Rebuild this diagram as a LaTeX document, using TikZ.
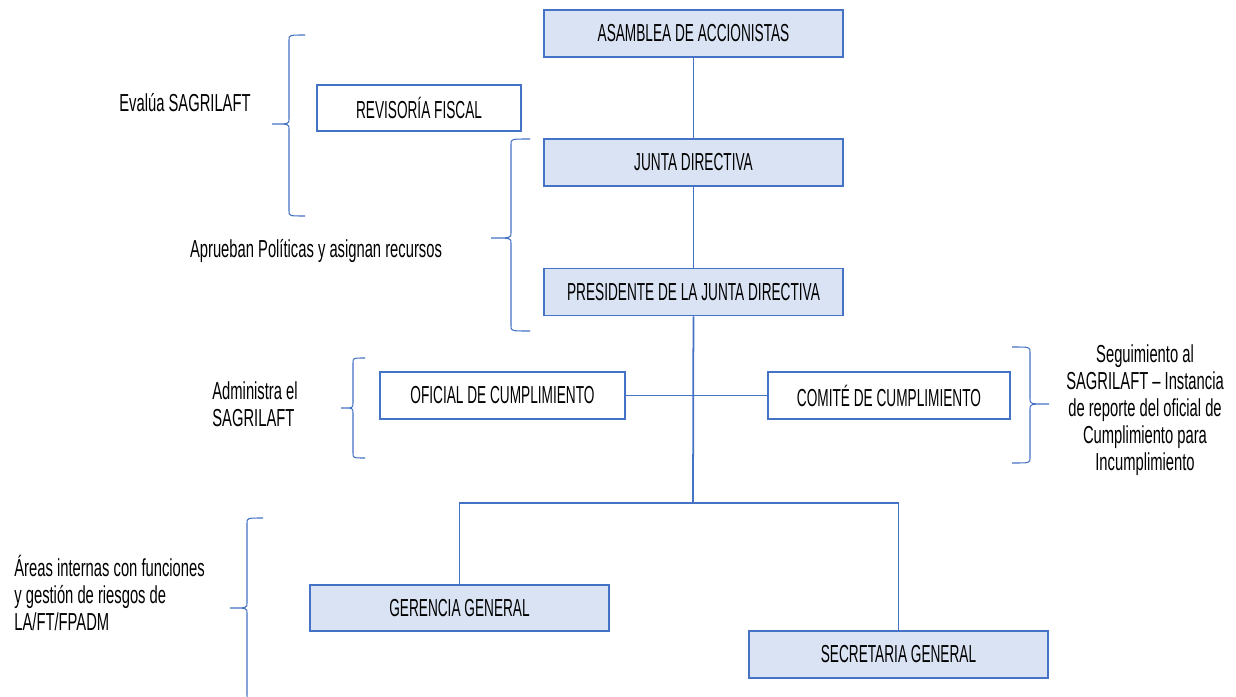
\documentclass[tikz,border=0pt]{standalone}
\usepackage{fontspec}
\setmainfont{Liberation Sans}[FakeStretch=0.555]
\newfontfamily\notafont{Liberation Sans}[FakeStretch=0.6]
\usepackage{tikz}
\definecolor{orgblue}{HTML}{4472C4}
\definecolor{orgfill}{HTML}{DAE3F3}
% llave: extremo x, lomo x, punta x, y arriba, y punta, y abajo
\newcommand{\llave}[6]{%
  \draw[orgblue,line width=0.6pt] (#1,#4) .. controls (#2,#4) .. (#2,#4+5) -- (#2,#5-5)
    .. controls (#2,#5) .. (#3,#5) .. controls (#2,#5) .. (#2,#5+5) -- (#2,#6-5)
    .. controls (#2,#6) .. (#1,#6);}

\begin{document}
\begin{tikzpicture}[x=0.02cm,y=-0.02cm,semithick,
  font=\fontsize{14}{15.3}\selectfont,
  cargo/.style={draw=orgblue,line width=0.9pt,fill=orgfill,minimum width=5.98cm,minimum height=0.94cm,inner sep=0pt},
  apoyo/.style={cargo,fill=white},
  link/.style={draw=orgblue,line width=0.6pt},
  nota/.style={font=\notafont\fontsize{14}{15.3}\selectfont}]
%\tikzstyle{every node}=[text=black]
\useasboundingbox (0,0) rectangle (1236,696);

\node[cargo] (asamblea) at (693.5,33.5) {ASAMBLEA DE ACCIONISTAS};
\node[apoyo,minimum width=4.08cm,minimum height=0.92cm] (revisoria) at (419,108) {REVISORÍA FISCAL};
\node[cargo] (junta) at (693.5,162.5) {JUNTA DIRECTIVA};
\node[cargo] (presidente) at (693.5,292) {PRESIDENTE DE LA JUNTA DIRECTIVA};
\node[apoyo,minimum width=4.9cm] (oficial) at (502.5,395.5) {OFICIAL DE CUMPLIMIENTO};
\node[apoyo,minimum width=4.84cm] (comite) at (889,395.5) {COMITÉ DE CUMPLIMIENTO};
\node[cargo,minimum height=0.92cm] (gerencia) at (459.5,608) {GERENCIA GENERAL};
\node[cargo] (secretaria) at (898.5,654.5) {SECRETARIA GENERAL};
\coordinate (reparto) at (693,503);

\path[link] (asamblea) -- (junta);
\path[link] (junta) -- (presidente);
\path[link,line width=1pt] (presidente) -- (reparto);
\path[link] (oficial) -- (comite);
\path[link] (reparto) -| (gerencia);
\path[link] (reparto) -| (secretaria);

% llaves y notas
\llave{305}{289}{272}{35}{124}{216}
\node[nota] (evalua) at (185,103) {Evalúa SAGRILAFT};
\llave{530}{511}{491}{139}{238}{331}
\node[nota] (aprueban) at (316,251) {Aprueban Políticas y asignan recursos};
\llave{365}{353}{341}{358}{408}{458}
\node[nota,align=left,anchor=west] (administra) at (206,404) {Administra el\\SAGRILAFT};
\llave{1012}{1030}{1049}{347}{404}{463}
\node[nota,align=center] (seguimiento) at (1145,410) {Seguimiento al\\SAGRILAFT – Instancia\\de reporte del oficial de\\Cumplimiento para\\Incumplimiento};
\llave{263}{247}{230}{518}{608}{700}
\node[nota,align=left,anchor=west] (areas) at (8,593) {Áreas internas con funciones\\y gestión de riesgos de\\LA/FT/FPADM};
\end{tikzpicture}
\end{document}
